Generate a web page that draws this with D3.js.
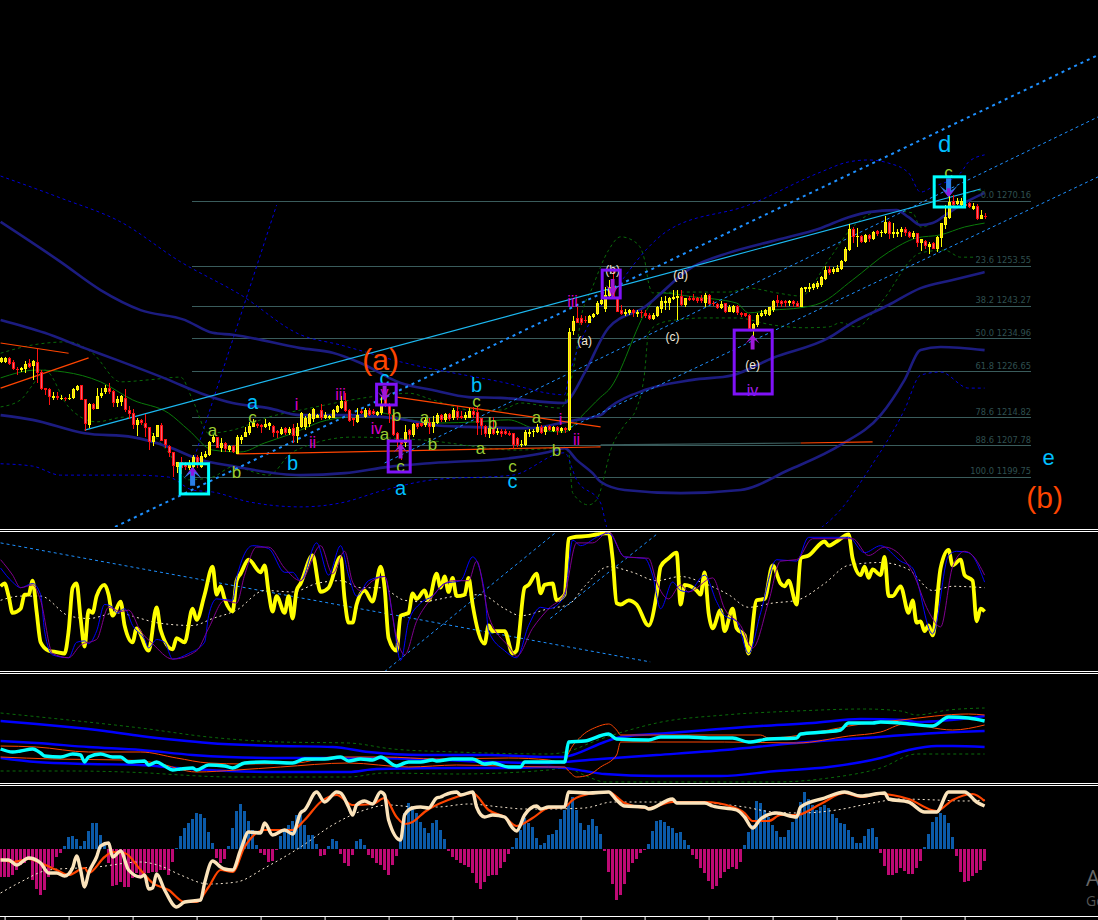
<!DOCTYPE html>
<html><head><meta charset="utf-8"><title>XAU wave chart</title>
<script src="https://cdn.jsdelivr.net/npm/d3@7"></script>
<style>html,body{margin:0;padding:0;background:#000;overflow:hidden}svg{display:block}</style>
</head><body><svg id="c" width="1098" height="920"></svg>
<script>
// open, high, low, close per bar
const ohlc=[
[1229.0,1230.3,1228.8,1229.9],[1229.0,1230.3,1228.8,1229.9],[1229.9,1230.3,1228.2,1228.4],[1229.0,1229.4,1226.9,1227.2],[1227.3,1227.8,1225.6,1226.9],[1226.9,1227.8,1226.5,1227.5],[1227.2,1229.2,1226.2,1228.5],[1228.8,1229.6,1227.4,1227.8],[1227.9,1229.5,1224.4,1229.3],[1229.0,1232.2,1223.5,1226.1],
[1226.3,1226.9,1221.7,1222.1],[1222.2,1222.3,1220.5,1221.8],[1222.1,1222.2,1218.0,1220.1],[1219.9,1221.4,1219.3,1220.3],[1220.4,1221.2,1219.3,1219.7],[1219.5,1220.5,1219.3,1219.9],[1219.9,1220.1,1219.1,1219.4],[1219.6,1220.8,1219.3,1219.9],[1219.7,1222.2,1219.5,1222.1],[1221.8,1223.0,1221.6,1222.9],
[1223.0,1223.2,1219.2,1219.3],[1219.4,1219.6,1211.4,1213.2],[1212.9,1218.4,1212.0,1218.2],[1218.2,1218.4,1216.6,1216.9],[1217.0,1222.4,1217.0,1220.3],[1220.3,1222.2,1219.9,1221.0],[1221.2,1223.1,1220.8,1222.2],[1222.2,1223.5,1220.8,1221.2],[1221.6,1221.8,1217.4,1218.4],[1218.4,1220.3,1217.6,1219.6],
[1218.8,1220.5,1217.7,1220.3],[1219.9,1222.0,1216.3,1216.6],[1216.7,1217.7,1214.3,1215.6],[1215.9,1216.9,1211.8,1212.9],[1212.9,1214.8,1210.1,1214.2],[1214.2,1214.3,1212.9,1213.3],[1213.5,1215.6,1209.9,1212.2],[1212.3,1212.5,1206.5,1208.6],[1208.6,1210.8,1207.5,1210.1],[1209.9,1213.0,1209.7,1212.8],
[1212.9,1213.3,1208.8,1208.9],[1209.2,1209.2,1206.9,1207.8],[1207.5,1207.8,1204.8,1205.7],[1206.1,1206.1,1199.7,1202.5],[1202.3,1203.5,1200.6,1203.5],[1203.5,1204.6,1200.4,1201.8],[1203.1,1203.5,1201.4,1202.1],[1201.8,1204.0,1201.4,1202.9],[1202.3,1205.2,1199.7,1204.6],[1204.8,1205.2,1201.8,1203.1],
[1202.1,1206.1,1201.8,1205.0],[1204.6,1206.3,1204.4,1205.4],[1205.2,1208.7,1205.0,1208.6],[1208.6,1210.3,1208.4,1209.7],[1209.7,1209.9,1206.9,1206.9],[1206.9,1209.5,1206.1,1208.4],[1208.4,1208.6,1206.1,1206.7],[1206.5,1207.9,1206.1,1207.5],[1207.5,1207.8,1205.7,1206.0],[1205.5,1210.3,1205.5,1209.7],
[1209.1,1210.3,1208.0,1209.9],[1209.9,1212.5,1209.9,1211.0],[1210.8,1213.7,1210.3,1212.6],[1212.5,1214.3,1212.3,1213.3],[1213.1,1213.5,1212.0,1212.6],[1212.9,1213.1,1210.9,1212.3],[1212.3,1214.3,1212.0,1213.1],[1212.6,1213.7,1211.6,1213.3],[1212.7,1212.9,1209.7,1210.8],[1211.4,1211.6,1209.5,1210.9],
[1210.6,1212.3,1210.3,1211.9],[1212.0,1212.3,1210.3,1210.9],[1210.8,1212.3,1210.3,1211.9],[1212.0,1213.1,1208.2,1210.1],[1210.1,1213.5,1208.2,1212.5],
[1212.3,1216.3,1212.0,1216.0],[1212.3,1215.2,1211.6,1214.6],[1213.2,1216.0,1212.5,1215.7],[1214.3,1217.1,1213.7,1216.9],[1214.8,1215.8,1214.6,1215.4],[1216.7,1218.2,1214.2,1214.6],[1214.6,1216.3,1214.3,1215.4],[1214.6,1215.4,1214.4,1215.2],[1214.8,1216.9,1214.6,1216.7],[1216.3,1218.0,1216.0,1217.8],
[1217.3,1220.3,1217.0,1219.1],[1219.0,1221.0,1216.3,1216.5],[1216.7,1217.0,1213.7,1214.0],[1214.8,1214.8,1212.6,1214.2],[1213.7,1217.1,1213.5,1215.4],[1216.5,1216.9,1215.6,1216.0],[1215.0,1217.3,1214.8,1216.7],[1216.7,1217.1,1215.2,1215.4],[1216.5,1216.9,1215.4,1215.7],[1215.4,1216.5,1215.2,1216.3],
[1215.9,1220.1,1215.4,1218.0],[1220.1,1220.5,1217.6,1218.0],[1218.0,1218.4,1213.3,1215.7],[1215.4,1215.7,1210.1,1210.3],[1210.9,1211.2,1207.4,1209.1],[1209.1,1209.1,1204.0,1208.0],[1208.2,1212.9,1207.4,1211.2],[1211.6,1211.8,1208.2,1210.3],[1210.3,1213.3,1209.9,1213.1],[1213.3,1213.5,1211.8,1212.3],
[1213.3,1213.5,1212.3,1212.6],[1212.9,1215.0,1212.5,1214.2],[1213.7,1214.8,1210.6,1212.5],[1212.5,1215.2,1210.9,1213.7],[1213.3,1216.0,1213.1,1215.4],[1215.4,1215.7,1213.7,1214.2],[1214.2,1215.9,1213.7,1215.7],[1215.7,1216.0,1214.0,1214.3],[1214.6,1217.1,1214.2,1216.7],[1216.5,1217.7,1214.2,1214.8],
[1215.2,1216.5,1214.3,1214.6],[1214.6,1216.3,1214.2,1215.4],[1214.8,1217.1,1214.6,1216.5],[1216.5,1217.6,1214.6,1215.4],[1216.3,1217.6,1210.3,1213.3],[1214.6,1214.8,1210.3,1212.6],[1212.7,1212.9,1209.9,1210.6],[1210.6,1212.9,1209.5,1212.0],[1212.0,1215.0,1210.3,1210.6],[1210.9,1212.0,1210.3,1211.4],
[1211.4,1211.8,1209.9,1210.6],[1211.4,1211.8,1210.3,1210.6],[1210.9,1211.4,1210.1,1210.4],[1210.8,1210.9,1206.7,1207.8],[1209.5,1209.9,1207.4,1207.8],[1207.7,1209.1,1207.2,1208.0],[1207.8,1211.6,1207.5,1211.2],[1210.6,1211.8,1209.9,1211.2],[1211.1,1211.8,1209.9,1211.4],[1211.2,1213.1,1210.8,1212.5],
[1212.5,1212.8,1210.6,1210.9],[1211.2,1212.6,1210.3,1212.3],[1212.6,1212.9,1211.4,1211.6],[1211.4,1212.6,1211.2,1212.3],[1212.3,1212.6,1210.3,1211.4],[1211.3,1212.3,1210.9,1212.0],[1212.2,1212.5,1210.8,1211.6],[1211.6,1237.6,1211.3,1236.6],
[1236.9,1240.7,1235.8,1239.5],[1240.1,1243.1,1238.8,1239.0],[1240.1,1240.9,1238.4,1238.8],[1239.8,1240.7,1238.8,1239.3],[1239.0,1240.9,1238.8,1240.7],[1240.4,1241.4,1240.1,1241.2],[1241.2,1244.6,1240.9,1244.1],[1243.8,1246.3,1243.5,1244.8],[1242.6,1248.2,1241.8,1246.0],[1245.8,1249.9,1245.6,1248.2],
[1248.3,1252.4,1245.2,1245.6],[1245.2,1245.6,1241.6,1241.8],[1242.1,1243.5,1240.9,1241.2],[1241.2,1242.4,1240.7,1241.8],[1241.4,1242.4,1240.9,1242.1],[1242.2,1242.4,1240.5,1241.5],[1241.2,1242.1,1240.4,1241.7],[1241.8,1242.2,1240.1,1241.4],[1241.4,1242.1,1240.1,1240.7],[1240.9,1241.4,1239.7,1239.9],
[1240.0,1241.4,1239.8,1241.0],[1240.7,1243.3,1240.4,1242.9],[1242.6,1245.6,1241.4,1244.4],[1244.1,1245.8,1242.2,1244.4],[1243.9,1245.6,1242.2,1245.4],[1245.0,1247.3,1244.8,1245.6],[1245.4,1247.3,1239.7,1245.9],[1245.9,1247.3,1243.2,1243.5],[1243.5,1245.4,1243.1,1245.2],[1245.2,1245.8,1244.4,1244.8],
[1245.4,1246.3,1244.4,1244.8],[1245.2,1245.6,1244.1,1244.6],[1245.2,1246.1,1244.1,1244.4],[1243.9,1246.5,1242.9,1246.1],[1246.1,1246.3,1243.5,1243.8],[1244.1,1244.6,1243.3,1243.7],[1243.8,1244.1,1242.4,1242.8],[1242.8,1244.4,1242.4,1243.8],[1243.9,1244.1,1241.4,1241.8],[1241.8,1243.5,1241.6,1242.9],
[1241.8,1243.5,1241.4,1243.2],[1243.2,1243.5,1240.9,1241.4],[1241.4,1241.8,1240.4,1240.9],[1241.4,1241.5,1240.4,1240.7],[1240.9,1241.2,1237.1,1237.5],[1237.3,1239.0,1234.6,1238.7],[1238.4,1241.4,1238.0,1240.9],[1240.7,1242.2,1240.4,1241.5],[1241.2,1242.4,1240.7,1242.2],[1240.9,1243.1,1240.7,1242.9],
[1242.2,1244.8,1241.8,1244.6],[1244.8,1246.0,1242.9,1244.1],[1244.6,1244.9,1242.9,1243.8],[1244.4,1244.9,1242.9,1243.9],[1243.9,1244.9,1243.3,1244.6],[1244.6,1244.9,1243.1,1243.8],[1244.1,1244.6,1242.9,1243.1],[1243.1,1248.0,1242.9,1247.8],[1247.5,1248.2,1246.7,1248.0],[1247.5,1249.0,1246.9,1248.2],
[1247.8,1249.2,1247.3,1248.8],[1248.0,1249.5,1247.5,1249.0],[1248.6,1251.0,1248.2,1250.7],[1250.1,1253.5,1249.9,1252.4],[1252.6,1253.5,1251.2,1251.6],[1251.8,1253.1,1251.4,1252.6],[1252.0,1253.7,1251.8,1253.0],[1252.7,1255.1,1252.4,1254.7],[1254.7,1258.2,1254.5,1257.8],[1257.5,1264.2,1257.3,1262.8],
[1262.8,1263.3,1259.2,1260.8],[1260.8,1263.1,1258.4,1261.1],[1261.1,1261.4,1259.2,1259.6],[1259.7,1261.6,1259.2,1261.4],[1261.3,1261.6,1259.7,1260.3],[1260.4,1262.4,1260.1,1262.1],[1262.3,1262.6,1261.1,1261.6],[1261.8,1262.6,1260.8,1262.2],[1261.8,1266.2,1261.6,1264.7],[1264.7,1265.0,1260.3,1261.6],
[1261.6,1264.3,1260.5,1262.0],[1261.6,1263.0,1260.8,1262.2],[1262.0,1263.3,1260.9,1262.9],[1262.8,1263.3,1261.1,1261.8],[1262.2,1262.5,1260.5,1260.9],[1260.9,1262.3,1260.4,1261.9],[1261.8,1261.9,1258.2,1259.4],[1259.4,1260.4,1257.4,1260.3],[1259.9,1260.1,1257.7,1258.6],[1258.4,1259.7,1256.5,1259.0],
[1259.2,1259.7,1257.7,1257.9],[1257.9,1261.1,1257.1,1260.9],[1260.7,1264.5,1258.2,1264.3],[1263.9,1269.0,1262.8,1265.9],[1265.6,1271.6,1265.4,1269.9],[1270.1,1271.6,1268.8,1269.0],[1269.3,1270.7,1269.0,1270.1],[1269.0,1270.7,1268.8,1270.1],[1269.3,1269.6,1268.4,1268.8],[1269.6,1269.9,1268.2,1268.4],
[1268.1,1269.4,1267.7,1268.8],[1268.8,1269.3,1265.2,1265.4],[1265.5,1267.7,1265.4,1266.5],[1266.2,1266.9,1265.4,1265.9]];

// Fibonacci levels
const fibPct=["0.0","23.6","38.2","50.0","61.8","78.6","88.6","100.0"];
const fibPrice=[1270.16,1253.55,1243.27,1234.96,1226.65,1214.82,1207.78,1199.75];

// envelope lines, [bar, price]
const navyUpper=[[0,1264.7],[15,1254.5],[25,1247.3],[35,1242.2],[46,1239.7],[53,1236.4],[58,1235.9],[75,1232.5],[83,1231.3],[90,1228.7],[100,1223.6],[108,1221.8],[117,1220.0],[125,1219.8],[141,1218.5],[142,1219.3],[146,1226.2],[152,1237.7],[161,1243.0],[173,1253.2],[182,1256.8],[194,1260.1],[205,1263.1],[212,1265.9],[217,1267.2],[224,1267.7],[227,1265.9],[230,1263.9],[233,1264.4],[237,1267.0],[240,1269.0],[246,1272.1]];
const navyMid=[[0,1239.7],[11,1236.4],[21,1232.5],[29,1229.5],[42,1224.4],[50,1221.0],[58,1218.5],[67,1217.2],[75,1215.4],[86,1215.4],[100,1214.4],[108,1212.9],[117,1212.4],[128,1212.1],[133,1212.1],[140,1213.4],[144,1214.2],[150,1215.4],[152,1217.2],[161,1221.8],[173,1224.4],[183,1225.6],[193,1230.0],[207,1235.1],[213,1239.0],[222,1243.5],[230,1247.8],[238,1249.9],[246,1251.9]];
const navyLower=[[0,1215.4],[8,1214.2],[21,1210.8],[33,1209.8],[42,1207.3],[50,1204.0],[58,1202.4],[75,1200.1],[86,1200.6],[97,1202.2],[108,1203.2],[128,1204.5],[137,1206.0],[141,1207.0],[144,1204.0],[148,1200.6],[150,1198.4],[156,1196.3],[170,1195.5],[185,1196.3],[197,1201.4],[210,1207.8],[220,1215.4],[226,1224.4],[230,1232.0],[235,1232.8],[246,1232.0]];
const dotUpper=[[0,1276.4],[15,1270.8],[30,1264.7],[45,1254.5],[60,1246.1],[75,1235.9],[85,1233.3],[100,1229.0],[125,1223.9],[141,1220.6],[142,1225.0],[156,1250.7],[167,1262.6],[187,1269.0],[205,1277.4],[212,1280.0],[217,1280.5],[222,1279.7],[227,1277.2],[230,1272.3],[233,1273.6],[240,1277.2],[242,1280.0],[246,1281.8]];
const dotLower=[[0,1203.0],[8,1202.4],[15,1200.1],[33,1200.1],[42,1199.6],[48,1196.3],[53,1195.8],[62,1193.3],[75,1192.0],[85,1193.0],[96,1196.3],[108,1198.9],[128,1200.1],[141,1205.8],[144,1198.9],[150,1193.0],[152,1186],[197,1183.6],[210,1191.3],[217,1201.4],[226,1216.8],[230,1225.6],[235,1226.4],[242,1222.3],[246,1222.3]];
const dotSteep=[[48,1203.2],[69,1269.0]];
const greenMid=[[0,1224.9],[9,1226.9],[16,1226.4],[25,1223.9],[33,1219.3],[42,1215.9],[47,1211.6],[53,1206.5],[60,1206.0],[66,1208.3],[72,1210.4],[75,1211.6],[80,1213.7],[86,1214.9],[95,1216.0],[100,1214.7],[110,1213.4],[119,1213.7],[127,1214.2],[133,1212.1],[141,1211.1],[145,1214.9],[150,1220.0],[152,1221.8],[162,1243.0],[165,1246.6],[173,1245.6],[184,1244.0],[187,1241.5],[193,1242.2],[200,1242.8],[205,1244.0],[213,1249.9],[222,1257.0],[229,1260.6],[235,1261.4],[241,1263.4],[246,1264.4]];
const greenUp=[[0,1231.2],[8,1233.3],[17,1234.1],[23,1231.2],[30,1223.9],[37,1224.4],[45,1225.1],[48,1219.3],[52,1210.8],[58,1211.6],[67,1214.9],[75,1216.7],[97,1220.6],[102,1221.0],[108,1219.3],[118,1216.7],[125,1216.7],[130,1218.5],[140,1217.2],[142,1221.8],[144,1232.0],[145,1239.7],[148,1248.1],[152,1257.5],[155,1260.9],[159,1259.3],[161,1255.0],[162,1249.1],[163,1246.6],[170,1246.8],[182,1246.8],[187,1247.8],[194,1246.6],[200,1245.8],[207,1255.0],[213,1263.4],[221,1267.7],[228,1267.0],[230,1263.4],[236,1266.5],[242,1272.1],[246,1272.8]];
const greenLow=[[0,1217.5],[5,1219.3],[8,1223.1],[11,1226.9],[17,1217.5],[24,1213.7],[31,1214.9],[35,1213.4],[42,1205.8],[47,1198.9],[53,1199.6],[58,1202.2],[67,1200.1],[73,1206.0],[88,1209.8],[105,1209.1],[129,1206.5],[141,1207.0],[142,1205.8],[143,1195.6],[147,1192.5],[149,1193.8],[153,1207.8],[156,1212.9],[159,1217.2],[161,1226.2],[162,1236.4],[165,1238.9],[169,1239.7],[176,1240.2],[184,1240.2],[193,1238.4],[201,1237.7],[207,1237.9],[210,1239.0],[214,1237.9],[220,1244.0],[230,1256.8],[236,1257.5],[240,1255.7],[244,1255.7]];

// drawn trend lines, [bar, price]
const channelA=[[28.6,1186.9],[274.4,1307.3]];
const channelB=[[96,1203.2],[274.4,1291.5]];
const channelC=[[141,1211.6],[274.4,1276.2]];
const skyLine=[[21,1211.6],[245,1273.1]];
const orangeA=[[0,1233.8],[17,1231.2]];
const orangeB=[[0,1222.3],[22,1230.0]];
const orangeBase=[[59,1205.5],[75,1205.8],[150,1207.3]];
const greyBase=[[150,1207.8],[200,1208.3]];
const orangeBase2=[[200,1208.3],[218,1208.6]];
const orangeFall=[[99,1220.0],[150,1212.4]];

// oscillator pane
const oscMain=[[0,61],[1,63],[2,54],[3,42],[5,45],[6,55],[7,55],[8,65],[9,43],[10,21],[12,15],[14,14],[16,13],[17,29],[18,60],[19,63],[20,38],[21,18],[22,44],[23,42],[24,54],[26,62],[27,55],[28,40],[30,50],[31,33],[33,21],[34,31],[37,15],[39,46],[40,30],[43,16],[44,24],[46,21],[48,45],[49,37],[51,55],[53,75],[54,55],[55,61],[56,52],[58,43],[59,65],[60,70],[62,80],[65,71],[66,76],[67,57],[68,43],[69,54],[71,42],[72,54],[73,38],[74,58],[75,63],[78,83],[80,57],[82,60],[85,82],[86,52],[87,35],[88,35],[89,48],[91,58],[93,50],[95,75],[96,60],[97,24],[99,15],[100,40],[102,42],[103,56],[104,52],[106,58],[107,51],[109,70],[110,60],[111,68],[112,57],[113,67],[114,54],[116,55],[117,67],[118,48],[121,20],[122,33],[123,29],[126,29],[128,13],[129,15],[131,60],[132,62],[134,70],[135,56],[136,62],[138,63],[139,51],[141,55],[142,95],[143,96],[147,97],[149,98],[152,99],[153,81],[154,49],[155,48],[157,51],[159,48],[162,33],[164,55],[165,75],[167,81],[169,85],[170,48],[171,62],[174,58],[175,55],[176,71],[177,42],[178,31],[180,44],[181,29],[183,45],[184,31],[186,26],[187,13],[189,51],[191,52],[193,76],[195,63],[196,61],[197,65],[199,48],[200,81],[202,83],[206,93],[207,90],[209,93],[212,98],[213,81],[215,69],[216,75],[217,67],[218,73],[220,69],[221,82],[222,54],[223,54],[225,61],[227,42],[228,51],[229,35],[230,36],[231,29],[232,33],[233,26],[235,74],[237,87],[238,76],[240,80],[241,69],[243,65],[244,36],[245,45],[246,43]];
const oscBlue=[[0,74],[3,64],[5,60],[8,63],[10,55],[11,29],[13,12],[17,10],[19,21],[21,22],[22,20],[24,29],[26,48],[28,46],[29,42],[31,45],[33,33],[36,23],[37,17],[39,23],[41,21],[43,9],[47,13],[51,21],[52,40],[54,52],[58,51],[59,67],[63,90],[67,88],[71,71],[73,71],[75,65],[79,92],[82,69],[85,90],[87,69],[89,54],[92,65],[96,68],[98,40],[100,8],[102,36],[105,49],[108,54],[111,63],[115,65],[118,82],[121,57],[122,29],[126,15],[129,10],[132,33],[135,46],[137,45],[141,54],[143,94],[145,90],[149,96],[152,99],[156,82],[161,81],[163,69],[165,45],[168,64],[170,58],[172,57],[176,69],[179,50],[181,40],[184,36],[187,13],[190,42],[194,80],[199,79],[202,96],[212,96],[216,85],[220,90],[225,79],[228,74],[233,27],[237,83],[239,86],[242,85],[246,64]];
const oscPurple=[[0,80],[3,69],[5,60],[8,62],[10,51],[13,13],[17,10],[20,19],[24,23],[27,46],[30,43],[32,44],[35,29],[38,20],[43,9],[49,15],[52,31],[56,51],[59,49],[61,69],[64,89],[67,89],[71,74],[75,65],[80,90],[83,70],[86,86],[88,64],[90,58],[93,65],[96,68],[99,24],[101,12],[104,36],[107,50],[113,65],[117,65],[119,79],[122,40],[127,18],[129,11],[133,31],[137,45],[141,56],[144,92],[148,92],[152,100],[156,82],[162,81],[164,64],[167,52],[170,62],[172,57],[178,67],[181,45],[185,33],[188,17],[192,50],[195,79],[199,80],[203,95],[213,95],[217,83],[221,89],[228,71],[232,43],[235,32],[238,75],[241,86],[243,83],[246,69]];
const oscSignal=[[0,51],[5,54],[10,54],[17,40],[22,38],[29,42],[35,38],[39,35],[48,33],[53,38],[59,44],[66,58],[73,57],[79,63],[85,65],[90,60],[95,60],[101,51],[105,50],[114,54],[120,55],[126,45],[130,40],[137,45],[142,48],[146,61],[152,75],[158,71],[164,65],[170,68],[176,63],[182,55],[187,46],[193,49],[199,51],[206,63],[212,76],[220,78],[227,73],[233,58],[238,61],[246,60]];
const oscTrendFall=[[0,92],[162.4,7]];
const oscTrendRiseA=[[96,0],[138.6,99]];
const oscTrendRiseB=[[137.4,38],[164.4,99]];

// band pane
const bandCyan=[[0,34],[3,31],[5,32],[8,34],[10,30],[11,27],[15,26],[18,29],[20,28],[21,21],[22,26],[25,29],[28,26],[30,26],[32,21],[36,22],[37,18],[39,21],[41,17],[43,13],[45,14],[48,15],[49,13],[52,18],[56,17],[58,15],[61,20],[66,21],[73,20],[76,24],[81,24],[85,26],[87,22],[90,24],[93,23],[95,26],[99,17],[101,20],[102,21],[105,21],[108,23],[109,22],[113,24],[118,24],[121,19],[123,20],[127,16],[130,16],[131,21],[137,21],[141,21],[142,41],[146,42],[152,49],[154,44],[162,43],[165,46],[172,46],[177,45],[183,45],[187,41],[192,44],[199,45],[200,49],[206,51],[210,53],[212,60],[218,60],[220,61],[225,60],[233,57],[237,66],[242,65],[246,62]];
const bandBlueUp=[[0,62],[9,59],[17,56],[26,52],[35,47],[44,43],[52,40],[70,37],[83,36],[92,31],[105,28],[122,28],[137,26],[141,26],[143,28],[151,41],[155,46],[167,50],[190,57],[203,60],[215,64],[226,63],[229,61],[246,67]];
const bandBlueMid=[[0,42],[9,40],[22,36],[35,33],[48,28],[57,26],[70,25],[87,25],[105,24],[122,21],[137,20],[141,21],[150,24],[164,28],[181,33],[199,40],[216,45],[234,50],[246,52]];
const bandBlueLow=[[0,25],[9,21],[22,19],[35,18],[44,15],[57,12],[70,11],[87,11],[94,14],[114,15],[127,15],[137,16],[141,15],[146,12],[151,9],[164,7],[180,7],[194,12],[207,16],[220,25],[227,33],[234,37],[238,37],[246,36]];
const bandGreenUp=[[0,70],[17,63],[35,55],[52,46],[70,41],[87,40],[98,34],[114,31],[137,29],[143,33],[148,41],[159,55],[164,60],[181,68],[199,72],[216,74],[225,72],[229,68],[237,73],[246,75]];
const bandGreenLow=[[0,12],[17,12],[37,10],[45,8],[58,6],[87,6],[96,10],[114,9],[137,13],[141,15],[147,6],[151,1],[156,1],[194,1],[207,5],[220,15],[229,29],[246,29]];
const bandOrangeUp=[[0,37],[9,36],[22,31],[35,31],[44,25],[52,20],[61,19],[74,20],[83,26],[96,26],[109,24],[127,25],[137,23],[141,20],[142,30],[145,46],[149,56],[152,59],[154,53],[155,48],[172,48],[190,48],[192,45],[207,53],[212,57],[225,63],[242,69],[246,68]];
const bandOrangeLow=[[0,26],[13,24],[31,23],[39,20],[49,11],[59,13],[70,16],[87,20],[102,16],[114,18],[137,16],[141,16],[142,12],[144,6],[147,8],[150,16],[154,28],[155,41],[164,41],[181,41],[199,40],[212,47],[220,51],[226,59],[238,53],[246,58]];

// MACD pane
const histValues=[-28,-28,-28,-26,-21,-16,-14,-11,-31,-40,-46,-41,-28,-18,-8,-4,
3,12,13,10,3,8,18,26,26,14,6,
-14,-37,-36,-33,-38,-38,-29,-24,-28,-24,-24,-23,-23,-21,-21,-26,-13,
1,13,21,26,30,36,35,31,17,6,
-9,-14,-10,
3,21,38,45,38,28,19,4,
-4,-6,-13,-12,-1,
13,19,24,28,34,34,24,14,14,5,
-7,-6,3,10,8,-5,-14,-17,-6,8,10,4,
-6,-9,-14,-16,-21,-26,-16,-7,
9,36,46,41,36,27,21,16,26,29,19,10,
-2,-8,-11,-14,-16,-18,-24,-34,-40,-33,-27,-26,-26,-19,-13,-5,
2,11,19,31,26,22,11,4,6,14,
15,19,30,39,46,52,39,26,19,24,30,23,15,
-2,-23,-35,-51,-46,-35,-23,-14,-10,-4,
-1,5,18,28,29,27,23,21,16,17,9,4,
-6,-10,-19,-24,-32,-40,-37,-29,-23,-20,-18,-20,-13,
4,17,24,48,46,39,32,24,18,12,12,19,27,32,47,57,50,44,39,42,44,41,35,31,26,25,19,12,6,6,13,20,21,12,
-4,-17,-26,-26,-24,-19,-22,-25,-25,-19,-12,
2,15,27,32,36,34,26,12,
-7,-23,-33,-32,-27,-24,-21,-12];
const macdCream=[[0,-11],[2,-11],[4,-16],[7,-9],[10,-14],[12,-24],[14,-24],[16,-27],[18,-19],[19,-7],[20,-21],[21,-38],[22,-24],[24,-8],[25,3],[27,6],[28,-8],[30,-2],[32,-21],[35,-28],[36,-26],[37,-40],[38,-39],[39,-25],[41,-41],[44,-58],[46,-53],[50,-51],[51,-34],[53,-12],[55,-18],[56,-20],[58,-21],[60,-1],[62,17],[65,16],[66,26],[68,14],[71,19],[73,15],[75,36],[76,39],[79,57],[81,47],[84,57],[85,56],[87,42],[88,34],[89,44],[91,48],[93,45],[95,57],[96,54],[97,29],[100,9],[101,34],[103,41],[105,42],[107,41],[109,51],[110,52],[111,54],[114,57],[115,54],[118,57],[119,42],[121,32],[123,34],[126,32],[128,21],[129,18],[131,34],[134,43],[135,40],[137,42],[141,42],[142,57],[147,56],[152,57],[154,49],[156,43],[161,42],[162,40],[168,50],[169,46],[176,46],[178,43],[184,39],[186,32],[188,21],[190,30],[194,36],[199,32],[200,42],[206,51],[211,57],[215,53],[221,56],[222,50],[227,47],[231,37],[234,37],[237,57],[241,57],[244,47],[246,43]];
const macdOrange=[[0,-10],[3,-13],[7,-10],[10,-14],[14,-21],[17,-26],[21,-19],[22,-24],[26,-8],[28,-3],[31,-4],[35,-21],[38,-34],[42,-41],[46,-53],[49,-53],[52,-38],[55,-21],[58,-23],[61,2],[66,19],[73,19],[76,29],[80,47],[84,54],[88,44],[93,45],[96,51],[99,32],[101,25],[103,27],[106,37],[114,52],[118,56],[122,39],[126,32],[129,23],[133,31],[137,41],[141,42],[143,49],[147,55],[152,57],[156,46],[162,41],[168,47],[176,47],[183,42],[186,36],[188,28],[192,28],[195,34],[199,34],[205,45],[211,56],[215,52],[220,55],[227,50],[234,38],[238,49],[243,55],[246,48]];
const macdSignal=[[0,-44],[5,-33],[12,-21],[24,-18],[35,-13],[40,-17],[45,-26],[52,-35],[59,-33],[66,-19],[75,2],[83,24],[91,39],[97,44],[104,42],[109,42],[117,45],[125,42],[131,40],[137,40],[146,41],[153,47],[164,47],[176,46],[186,42],[193,37],[200,36],[209,39],[218,46],[225,50],[234,49],[241,48],[246,49]];

// wave annotations: text, bar, price
const waveBlue=[["a",63,1218.8,20],["b",73,1203.2,20],["b",119,1223.1,20],["c",128,1198.6,20],["a",100,1196.8,20],["c",96,1224.9,20],["d",236,1284.6,24],["e",262,1204.5,22]];
const waveOrange=[["(a)",95,1229.7,30],["(b)",261,1194.3,30]];
const waveGreen=[["a",53,1211.4],["b",59,1200.7],["c",63,1214.7],["b",99,1215.2],["a",96,1210.4],["c",100,1202.2],["a",106,1214.7],["b",108,1207.8],["a",120,1206.8],["b",123,1213.2],["c",119,1218.8],["a",134,1214.7],["b",139,1206.3],["c",128,1202.4],["c",237,1277.4]];
const waveRoman=[["i",74,1218.0],["ii",78,1208.3],["iii",85,1220.6],["iv",94,1212.1],["v",96,1221.1],["i",140,1214.2],["ii",144,1209.3],["iii",143,1244.3]];
const waveRomanViolet=[["iv",188,1221.6],["v",153,1247.0]];
const waveSmall=[["(a)",146,1234.3],["(b)",153,1252.4],["(c)",168,1235.3],["(d)",170,1251.2],["(e)",188,1228.2]];
// marker boxes: bar from, bar to, price top, price bottom
const cyanBoxes=[[44.9,52,1203.0,1195.3],[233.4,241,1276.2,1268.5]];
const purpleBoxes=[[94,98.9,1223.3,1218.0],[96.9,102.4,1208.8,1200.9],[150.4,154.9,1252.4,1245.3],[183.4,192.9,1237.1,1220.8]];
// arrows: bar, tip price, direction, big
const arrows=[[48,1203.0,1,true],[237,1270.2,-1,true],[96,1219.0,-1,false],[100,1208.2,1,false],[153,1246.3,-1,false],[188,1236.0,1,false]];
const tickBars=d3.range(1,242,16);

const svg=d3.select("#c");
svg.append("rect").attr("width",1098).attr("height",920).attr("fill","#000");
const defs=svg.append("defs");
[["pMain",0,527],["pOsc",532,139],["pBand",674,109],["pMacd",786,130]].forEach(([id,y,h])=>{
  defs.append("clipPath").attr("id",id).append("rect").attr("x",0).attr("y",y).attr("width",1098).attr("height",h);
});
const x=d3.scaleLinear().domain([0,246]).range([0.6,984.6]);
const yP=d3.scaleLinear().domain([1199.75,1270.16]).range([476.5,200.5]);
const yO=d3.scaleLinear().domain([0,100]).range([671.7,531.7]);
const yB=d3.scaleLinear().domain([0,100]).range([783,683]);
const yM=d3.scaleLinear().domain([-66,66]).range([915,783]);

const gMain=svg.append("g").attr("clip-path","url(#pMain)");
const gOsc=svg.append("g").attr("clip-path","url(#pOsc)");
const gBand=svg.append("g").attr("clip-path","url(#pBand)");
const gMacd=svg.append("g").attr("clip-path","url(#pMacd)");

function draw(g,yScale,data,color,width,dash){
  const line=d3.line().x(d=>x(d[0])).y(d=>yScale(d[1])).curve(d3.curveMonotoneX);
  const p=g.append("path").attr("d",line(data)).attr("fill","none").attr("stroke",color).attr("stroke-width",width).attr("stroke-linejoin","round");
  if(dash)p.attr("stroke-dasharray",dash);
  return p;
}
// main pane
fibPrice.forEach(p=>{
  gMain.append("line").attr("x1",x(47.85)).attr("x2",x(257.6)).attr("y1",Math.round(yP(p))+.5).attr("y2",Math.round(yP(p))+.5).attr("stroke","#3a5c5c").attr("stroke-width",1);
});
draw(gMain,yP,greenUp,"#0a6a0a",1,"3,3");
draw(gMain,yP,greenLow,"#0a6a0a",1,"3,3");
draw(gMain,yP,greenMid,"#0a7a0a",1);
draw(gMain,yP,dotUpper,"#0000d8",1,"3,3");
draw(gMain,yP,dotLower,"#0000d8",1,"3,3");
draw(gMain,yP,dotSteep,"#0000e0",1,"3,3");
draw(gMain,yP,navyUpper,"#1c1c80",2.6);
draw(gMain,yP,navyMid,"#1c1c80",2.6);
draw(gMain,yP,navyLower,"#1c1c80",2.6);
draw(gMain,yP,channelA,"#1e90ff",2,"3,4");
draw(gMain,yP,channelB,"#1e90ff",1,"3,3");
draw(gMain,yP,channelC,"#1e90ff",1,"3,3");
draw(gMain,yP,skyLine,"#1cb8f0",1.2);
[orangeA,orangeB,orangeBase,orangeBase2,orangeFall].forEach(s=>draw(gMain,yP,s,"#ff4500",1.2));
draw(gMain,yP,greyBase,"#3a5c5c",1.2);

// candles
const candles=gMain.append("g").attr("shape-rendering","crispEdges");
ohlc.forEach((d,i)=>{
  const up=d[3]>=d[0], col=up?"#ffff00":"#ff1010";
  const cx=Math.round(x(i));
  candles.append("line").attr("x1",cx+.5).attr("x2",cx+.5).attr("y1",yP(d[1])).attr("y2",yP(d[2])).attr("stroke",col).attr("stroke-width",1);
  const t=yP(Math.max(d[0],d[3])), b=yP(Math.min(d[0],d[3]));
  candles.append("rect").attr("x",cx-1).attr("y",t).attr("width",3).attr("height",Math.max(1,b-t)).attr("fill",col);
  if(b-t>3)candles.append("rect").attr("x",cx).attr("y",t+1).attr("width",1).attr("height",b-t-2).attr("fill",up?"#ffc030":"#f0607a");
});

function labels(rows,color,size,family){
  gMain.append("g").selectAll("text").data(rows).join("text")
    .attr("x",d=>x(d[1])).attr("y",d=>yP(d[2])).attr("text-anchor","middle").attr("dominant-baseline","central")
    .attr("font-family",family||"'Liberation Sans',Arial,sans-serif")
    .attr("font-size",d=>d[3]||size).attr("fill",color).text(d=>d[0]);
}
labels(waveBlue,"#00bfff",20);
labels(waveOrange,"#ff4500",30);
labels(waveGreen,"#9acd32",17);
labels(waveRoman,"#d800c8",16);
labels(waveRomanViolet,"#a01ee8",16);
labels(waveSmall,"#f2e8d8",12);

function box(rows,color){
  gMain.append("g").selectAll("rect").data(rows).join("rect")
    .attr("x",d=>x(d[0])).attr("width",d=>x(d[1])-x(d[0])).attr("y",d=>yP(d[2])).attr("height",d=>yP(d[3])-yP(d[2]))
    .attr("fill","none").attr("stroke",color).attr("stroke-width",3);
}
box(cyanBoxes,"#00ffff");
box(purpleBoxes,"#7f12f8");

// arrow glyphs: stem plus swept-back head
function arrowPath(cx,tip,dir,w,len){
  const p=d3.path(), s=w*.28;
  p.moveTo(cx,tip);p.lineTo(cx+w,tip+dir*w*1.3);p.lineTo(cx+s,tip+dir*w*.75);p.lineTo(cx+s,tip+dir*len);
  p.lineTo(cx-s,tip+dir*len);p.lineTo(cx-s,tip+dir*w*.75);p.lineTo(cx-w,tip+dir*w*1.3);p.closePath();
  return p.toString();
}
const arrowLayer=gMain.append("g");
arrows.forEach(([b,pr,dir,big])=>{
  const cx=x(b), tip=yP(pr);
  if(big){
    arrowLayer.append("path").attr("d",arrowPath(cx,tip+dir*3,dir,9,19)).attr("fill","#2a7fe8");
    arrowLayer.append("path").attr("d",arrowPath(cx,tip+dir*3,dir,6,9)).attr("fill","#8a18e0");
  }else{
    arrowLayer.append("path").attr("d",arrowPath(cx,tip,dir,7,15)).attr("fill","#a018d8");
  }
});

// fib text on top
svg.append("g").selectAll("text").data(fibPrice).join("text")
  .attr("x",x(257.6)).attr("y",d=>yP(d)-2.5).attr("text-anchor","end")
  .attr("font-family","'DejaVu Sans',sans-serif").attr("font-size",8.3).attr("fill","#2f4f4f")
  .text((d,i)=>fibPct[i]+" "+d3.format(".2f")(d));

// oscillator pane
draw(gOsc,yO,oscTrendFall,"#1e90ff",1,"3,3");
draw(gOsc,yO,oscTrendRiseA,"#1e90ff",1,"3,3");
draw(gOsc,yO,oscTrendRiseB,"#1e90ff",1,"3,3");
draw(gOsc,yO,oscSignal,"#f5e6d0",1,"2,3");
draw(gOsc,yO,oscMain,"#ffff00",3.8);
draw(gOsc,yO,oscBlue,"#0000ff",1);
draw(gOsc,yO,oscPurple,"#800090",1);

// band pane
draw(gBand,yB,bandGreenUp,"#0a6a0a",1,"3,3");
draw(gBand,yB,bandGreenLow,"#0a6a0a",1,"3,3");
draw(gBand,yB,bandBlueUp,"#0000ff",2.4);
draw(gBand,yB,bandBlueMid,"#0000ff",2.4);
draw(gBand,yB,bandBlueLow,"#0000ff",2.4);
draw(gBand,yB,bandOrangeUp,"#ff4500",1);
draw(gBand,yB,bandOrangeLow,"#ff4500",1);
draw(gBand,yB,bandCyan,"#00ffff",3.4);

// macd pane
gMacd.append("g").attr("shape-rendering","crispEdges").selectAll("rect").data(histValues).join("rect")
  .attr("x",(d,i)=>x(i)-1.5).attr("width",3.2)
  .attr("y",d=>d>=0?yM(d):yM(0)).attr("height",d=>Math.abs(yM(d)-yM(0)))
  .attr("fill",d=>d>=0?"#0b5aa8":"#bd0a74");
draw(gMacd,yM,macdSignal,"#f5e6d0",1,"2,3");
draw(gMacd,yM,macdOrange,"#ff4500",2.2);
draw(gMacd,yM,macdCream,"#fbe3bb",3.4);

// separators and time axis
[529.5,531.5,671.5,673.5,783.5,785.5].forEach(v=>{
  svg.append("line").attr("x1",0).attr("x2",1098).attr("y1",v).attr("y2",v).attr("stroke","#fff").attr("stroke-width",1);
});
const axis=d3.axisBottom(x).tickValues(tickBars).tickSize(4).tickFormat("");
const ax=svg.append("g").attr("transform","translate(0,916.5)").call(axis);
ax.select(".domain").remove();
ax.selectAll("line").attr("stroke","#fff");
svg.append("line").attr("x1",0).attr("x2",1098).attr("y1",916.5).attr("y2",916.5).attr("stroke","#fff");

// watermark
svg.append("text").attr("x",1086).attr("y",886).attr("font-family","'Open Sans',sans-serif").attr("font-size",22).attr("fill","#666").text("Activate Windows");
svg.append("text").attr("x",1086).attr("y",906).attr("font-family","'Open Sans',sans-serif").attr("font-size",14).attr("fill","#555").text("Go to Settings to activate Windows.");
</script></body></html>
